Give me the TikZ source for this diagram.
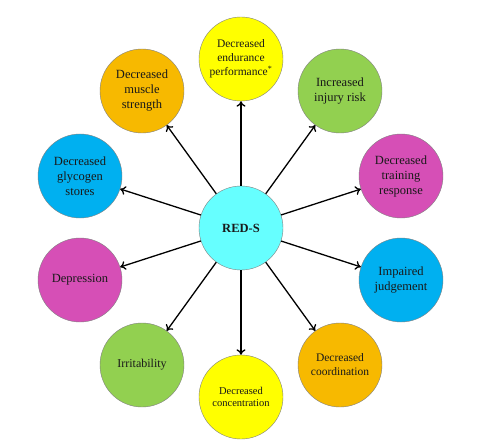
\documentclass[tikz,border=0pt]{standalone}
\usepackage{fontspec}
\setmainfont{Liberation Serif}
\usetikzlibrary{arrows.meta}
\definecolor{redscyan}{HTML}{66FFFF}
\definecolor{effyellow}{HTML}{FFFF00}
\definecolor{effgreen}{HTML}{92D050}
\definecolor{efforange}{HTML}{F7B900}
\definecolor{effpink}{HTML}{D64FB6}
\definecolor{effblue}{HTML}{00B0F0}

\begin{document}
\begin{tikzpicture}
            [x=1pt, y=-1pt,
            every node/.style={circle, minimum size=84pt, inner sep=0pt,
            draw=black!50, thin, align=center, text=black!90,
            font=\fontsize{12.5}{15}\selectfont},
            effect/.style={draw=black, line width=1.3pt,
            -{To[length=5.5pt,width=9pt]}}]
            \useasboundingbox (0,0) rectangle (504,444);
            \node[fill=redscyan, font=\fontsize{12.5}{15}\selectfont\bfseries] (reds) at (241,228) {RED-S};
            \node[fill=effyellow, font=\fontsize{11.5}{14}\selectfont] (endur) at (241,59)
                {Decreased\\endurance\\performance\textsuperscript{*}};
            \node[fill=effgreen] (injury) at (340,91) {Increased\\injury risk};
            \node[fill=effpink] (training) at (401,176) {Decreased\\training\\response};
            \node[fill=effblue] (judge) at (401,280) {Impaired\\judgement};
            \node[fill=efforange, font=\fontsize{11.5}{14}\selectfont] (coord) at (340,365)
                {Decreased\\coordination};
            \node[fill=effyellow, font=\fontsize{10.5}{12.5}\selectfont] (concen) at (241,397)
                {Decreased\\concentration};
            \node[fill=effgreen, font=\fontsize{12}{14}\selectfont] (irrit) at (142,365) {Irritability};
            \node[fill=effpink] (depress) at (80,280) {Depression};
            \node[fill=effblue] (glyco) at (80,176) {Decreased\\glycogen\\stores};
            \node[fill=efforange] (muscle) at (142,91) {Decreased\\muscle\\strength};
            \foreach \n in {endur,injury,training,judge,coord,concen,irrit,depress,glyco,muscle}
                \draw[effect] (reds) -- (\n);
\end{tikzpicture}
\end{document}
